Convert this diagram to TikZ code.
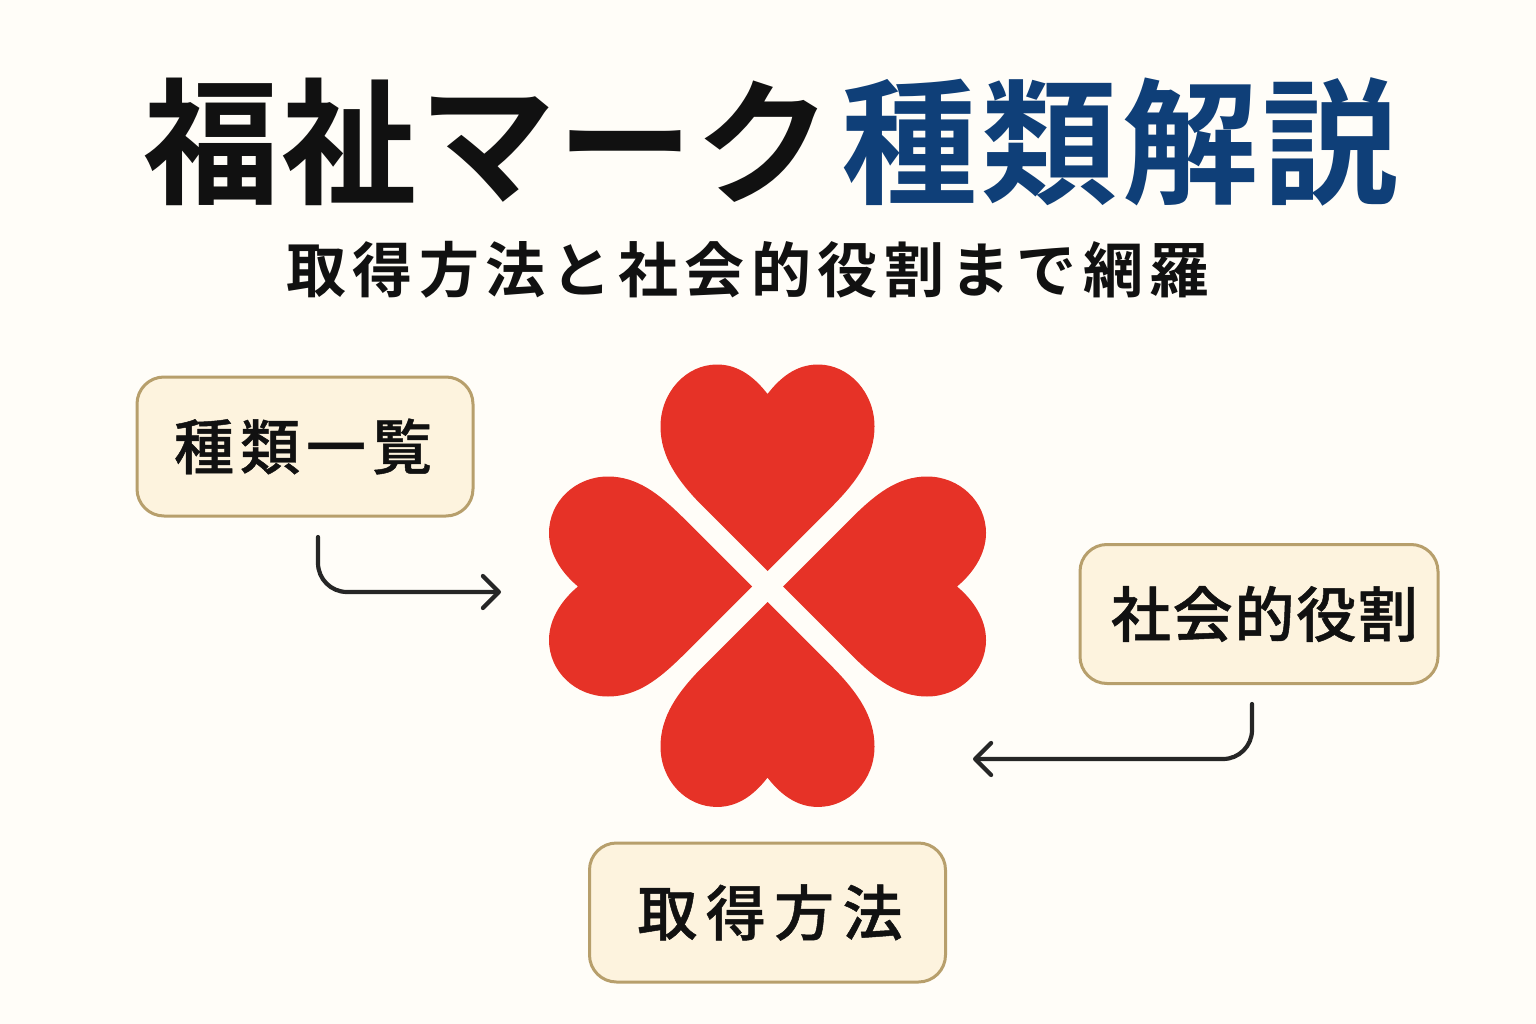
\documentclass[tikz,border=0pt]{standalone}
\usepackage{fontspec}
\usetikzlibrary{arrows.meta}
\newfontfamily\jptitlea[LetterSpace=1.6]{Noto Sans CJK JP Bold}
\newfontfamily\jptitleb[LetterSpace=3.3]{Noto Sans CJK JP Bold}
\newfontfamily\jpsub[LetterSpace=10.7]{Noto Sans CJK JP Bold}
\newfontfamily\jpboxa[LetterSpace=10,FakeBold=0.8]{Noto Sans CJK JP Medium}
\newfontfamily\jpboxb[LetterSpace=3,FakeBold=0.8]{Noto Sans CJK JP Medium}
\newfontfamily\jpboxc[LetterSpace=14,FakeBold=0.8]{Noto Sans CJK JP Medium}
\definecolor{pagebg}{HTML}{FFFDF8}
\definecolor{inkblack}{HTML}{111111}
\definecolor{titleblue}{HTML}{0F3F78}
\definecolor{heartred}{HTML}{E63227}
\definecolor{boxfill}{HTML}{FDF3DE}
\definecolor{boxline}{HTML}{B79F6C}
\definecolor{arrowink}{HTML}{262626}
\tikzset{
	labelbox/.style={draw=boxline,fill=boxfill,line width=3pt,rounded corners=27pt,
		minimum width=336pt,minimum height=139pt,inner sep=0pt,text=inkblack},
	flowline/.style={draw=arrowink,line width=4.2pt,rounded corners=29pt,line cap=round,
		-{Straight Barb[length=16pt,width=32pt,line width=4.2pt,round]}},
}
\begin{document}
\begin{tikzpicture}[x=1pt,y=-1pt]
	\fill[pagebg] (0,0) rectangle (1536,1024);
	\useasboundingbox (0,0) rectangle (1536,1024);
	% title lines
	\node[text=inkblack,inner sep=0pt] (title1) at (487.5,142){\jptitlea\fontsize{136}{136}\selectfont 福祉マーク};
	\node[text=titleblue,inner sep=0pt] (title2) at (1120.3,142){\jptitleb\fontsize{136}{136}\selectfont 種類解説};
	\node[text=inkblack,inner sep=0pt] (subtitle) at (748,270){\jpsub\fontsize{60}{60}\selectfont 取得方法と社会的役割まで網羅};
	% top and bottom hearts
	\foreach\ang/\ht in {0/1,180/0.993}{
		\begin{scope}[shift={(767.5,586.5)},rotate=\ang]
			\fill[heartred] (0,-15.5) -- (66,-81.5)
				.. controls (90,-106) and (107,-130) .. (107,-160)
				.. controls (107,-194) and (81.5,-222*\ht) .. (50.5,-222*\ht)
				.. controls (28,-222*\ht) and (12,-208*\ht) .. (0,-192.5*\ht)
				.. controls (-12,-208*\ht) and (-28,-222*\ht) .. (-50.5,-222*\ht)
				.. controls (-81.5,-222*\ht) and (-107,-194) .. (-107,-160)
				.. controls (-107,-130) and (-90,-106) .. (-66,-81.5) -- cycle;
		\end{scope}
	}
	% left and right hearts
	\foreach\ang in {90,270}{
		\begin{scope}[shift={(767.5,586.5)},rotate=\ang]
			\fill[heartred] (0,-15.5) -- (70,-85.5)
				.. controls (92,-108) and (110,-130) .. (110,-159.5)
				.. controls (110,-192) and (85,-218.5) .. (53.5,-218.5)
				.. controls (31,-218.5) and (12,-204) .. (0,-189.5)
				.. controls (-12,-204) and (-31,-218.5) .. (-53.5,-218.5)
				.. controls (-85,-218.5) and (-110,-192) .. (-110,-159.5)
				.. controls (-110,-130) and (-92,-108) .. (-70,-85.5) -- cycle;
		\end{scope}
	}
	% label boxes
	\node[labelbox] (kinds) at (305,446.5){\jpboxa\fontsize{60}{60}\selectfont 種類一覧\hspace*{4pt}};
	\node[labelbox,minimum width=358pt] (role) at (1259,614){\jpboxb\fontsize{60}{60}\selectfont\hspace*{11pt}社会的役割};
	\node[labelbox,minimum width=356pt] (howto) at (767.5,912.5){\jpboxc\fontsize{60}{60}\selectfont\hspace*{5pt}取得方法};
	% arrows towards the hearts
	\coordinate (kindsout) at (318,537);
	\coordinate (kindsin) at (501,592);
	\coordinate (roleout) at (1252,704);
	\coordinate (rolein) at (973,759);
	\draw[flowline] (kindsout) |- (kindsin);
	\draw[flowline] (roleout) |- (rolein);
\end{tikzpicture}
\end{document}
